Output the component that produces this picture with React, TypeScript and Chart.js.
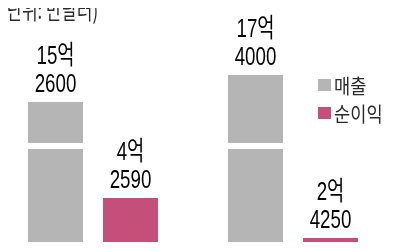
import React, { useEffect, useRef } from 'react';
import { Chart, registerables } from 'chart.js';
Chart.register(...registerables);

const categories = ['A', 'B'];
const seriesNames = ['매출', '순이익'];
const revenue = [152600, 174000];
const netIncome = [42590, 24250];
const unitLabel = '(단위: 만달러)';
const colors = ['#b5b5b5', '#c4507a'];

function formatValue(v: number): string[] {
  const eok = Math.floor(v / 10000);
  const rest = v % 10000;
  return [`${eok}억`, `${rest}`];
}

const labelPlugin = {
  id: 'valueLabels',
  afterDatasetsDraw(chart: any) {
    const ctx = chart.ctx;
    ctx.save();
    // axis break gap on the revenue bars
    ctx.fillStyle = '#ffffff';
    chart.getDatasetMeta(0).data.forEach((bar: any) => {
      ctx.fillRect(bar.x - bar.width / 2 - 1, 143, bar.width + 2, 6);
    });
    chart.data.datasets.forEach((ds: any, i: number) => {
      const meta = chart.getDatasetMeta(i);
      meta.data.forEach((bar: any, j: number) => {
        const [l1, l2] = formatValue(ds.data[j]);
        ctx.save();
        ctx.translate(bar.x, bar.y - 10);
        ctx.scale(0.72, 1);
        ctx.font = '26px "Liberation Sans", "Noto Sans CJK KR", sans-serif';
        ctx.textAlign = 'center';
        ctx.textBaseline = 'alphabetic';
        ctx.fillStyle = '#000000';
        ctx.fillText(l2, 0, 0);
        ctx.fillText(l1, 0, -28);
        ctx.restore();
      });
    });
    // unit label, top-left
    ctx.save();
    ctx.translate(8, 19);
    ctx.scale(0.7, 1);
    ctx.font = '24px "Noto Sans CJK KR", sans-serif';
    ctx.textAlign = 'left';
    ctx.textBaseline = 'alphabetic';
    ctx.fillStyle = '#2a2a2a';
    ctx.fillText(unitLabel, 0, 0);
    ctx.restore();
    ctx.restore();
  },
};

export default function App() {
  const ref = useRef<HTMLCanvasElement>(null);
  useEffect(() => {
    if (!ref.current) return;
    const chart = new Chart(ref.current, {
      type: 'bar',
      data: {
        labels: categories,
        datasets: [
          { label: seriesNames[0], data: revenue, backgroundColor: colors[0], borderWidth: 0, yAxisID: 'y', categoryPercentage: 0.75, barPercentage: 0.733 },
          { label: seriesNames[1], data: netIncome, backgroundColor: colors[1], borderWidth: 0, yAxisID: 'y1', categoryPercentage: 0.75, barPercentage: 0.733 },
        ],
      },
      options: {
        animation: false,
        responsive: false,
        layout: { padding: 0 },
        plugins: { legend: { display: false }, tooltip: { enabled: false }, title: { display: false } },
        scales: {
          x: { display: false },
          y: { display: false, min: 35400, max: 233400 },
          y1: { display: false, min: 18750, max: 133400 },
        },
      },
      plugins: [labelPlugin],
    });
    return () => chart.destroy();
  }, []);

  const legendText: React.CSSProperties = {
    position: 'absolute',
    left: 334,
    fontFamily: '"Noto Sans CJK KR", sans-serif',
    fontSize: 20,
    lineHeight: '20px',
    color: '#2a2a2a',
    transform: 'scaleX(0.88)',
    transformOrigin: 'left top',
    whiteSpace: 'nowrap',
  };

  return (
    <div style={{ position: 'relative', width: 400, height: 250, margin: -8, overflow: 'hidden', background: '#fff' }}>
      <canvas ref={ref} width={400} height={250} style={{ position: 'absolute', left: -7, top: 0, width: 400, height: 250 }} />
      <div style={{ position: 'absolute', left: 318, top: 79, width: 13, height: 12, background: colors[0] }} />
      <div style={{ ...legendText, top: 76 }}>{seriesNames[0]}</div>
      <div style={{ position: 'absolute', left: 318, top: 107, width: 13, height: 12, background: colors[1] }} />
      <div style={{ ...legendText, top: 104 }}>{seriesNames[1]}</div>
    </div>
  );
}
